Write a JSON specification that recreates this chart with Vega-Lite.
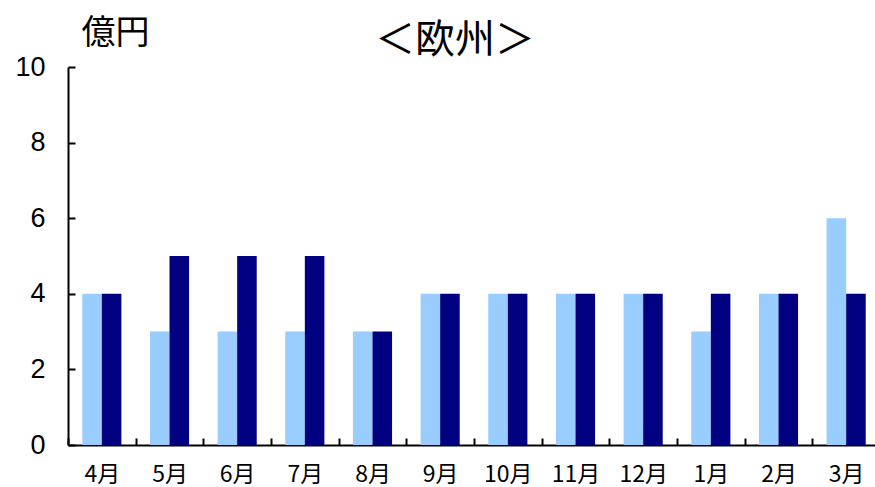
{
  "$schema": "https://vega.github.io/schema/vega-lite/v6.json",
  "autosize": "none",
  "width": 812,
  "height": 378,
  "padding": {"left": 68, "top": 67, "right": 0, "bottom": 42},
  "background": "white",
  "title": {
    "text": "＜欧州＞",
    "font": "Noto Sans CJK JP",
    "fontSize": 40,
    "fontWeight": "normal",
    "color": "black",
    "anchor": "middle",
    "dx": -19,
    "offset": -45
  },
  "data": {
    "values": [
      {"month": "4月", "series": "系列1", "value": 4},
      {"month": "4月", "series": "系列2", "value": 4},
      {"month": "5月", "series": "系列1", "value": 3},
      {"month": "5月", "series": "系列2", "value": 5},
      {"month": "6月", "series": "系列1", "value": 3},
      {"month": "6月", "series": "系列2", "value": 5},
      {"month": "7月", "series": "系列1", "value": 3},
      {"month": "7月", "series": "系列2", "value": 5},
      {"month": "8月", "series": "系列1", "value": 3},
      {"month": "8月", "series": "系列2", "value": 3},
      {"month": "9月", "series": "系列1", "value": 4},
      {"month": "9月", "series": "系列2", "value": 4},
      {"month": "10月", "series": "系列1", "value": 4},
      {"month": "10月", "series": "系列2", "value": 4},
      {"month": "11月", "series": "系列1", "value": 4},
      {"month": "11月", "series": "系列2", "value": 4},
      {"month": "12月", "series": "系列1", "value": 4},
      {"month": "12月", "series": "系列2", "value": 4},
      {"month": "1月", "series": "系列1", "value": 3},
      {"month": "1月", "series": "系列2", "value": 4},
      {"month": "2月", "series": "系列1", "value": 4},
      {"month": "2月", "series": "系列2", "value": 4},
      {"month": "3月", "series": "系列1", "value": 6},
      {"month": "3月", "series": "系列2", "value": 4}
    ]
  },
  "mark": {"type": "bar"},
  "encoding": {
    "x": {
      "field": "month",
      "type": "nominal",
      "sort": null,
      "scale": {"paddingInner": 0, "paddingOuter": 0},
      "axis": {
        "title": null,
        "labelAngle": 0,
        "labelFont": "Noto Sans CJK JP",
        "labelFontSize": 23,
        "labelColor": "black",
        "labelPadding": 25,
        "domainColor": "black",
        "domainWidth": 2,
        "tickColor": "black",
        "tickWidth": 2,
        "tickSize": -7,
        "tickBand": "extent",
        "grid": false
      }
    },
    "xOffset": {
      "field": "series",
      "type": "nominal",
      "sort": ["系列1", "系列2"],
      "scale": {"paddingInner": 0, "paddingOuter": 0.73}
    },
    "y": {
      "field": "value",
      "type": "quantitative",
      "scale": {"domain": [0, 10]},
      "axis": {
        "values": [0, 2, 4, 6, 8, 10],
        "title": "億円",
        "titleAngle": 0,
        "titleFont": "Noto Sans CJK JP",
        "titleFontSize": 34,
        "titleFontWeight": "normal",
        "titleColor": "black",
        "titleAlign": "left",
        "titleBaseline": "alphabetic",
        "titleX": 13,
        "titleY": -24,
        "labelFont": "Liberation Sans",
        "labelFontSize": 27,
        "labelColor": "black",
        "labelPadding": 30,
        "domainColor": "black",
        "domainWidth": 2,
        "tickColor": "black",
        "tickWidth": 2,
        "tickSize": -7,
        "grid": false
      }
    },
    "color": {
      "field": "series",
      "type": "nominal",
      "scale": {"domain": ["系列1", "系列2"], "range": ["#99CCFF", "#000080"]},
      "legend": null
    }
  },
  "config": {"view": {"stroke": null}}
}
